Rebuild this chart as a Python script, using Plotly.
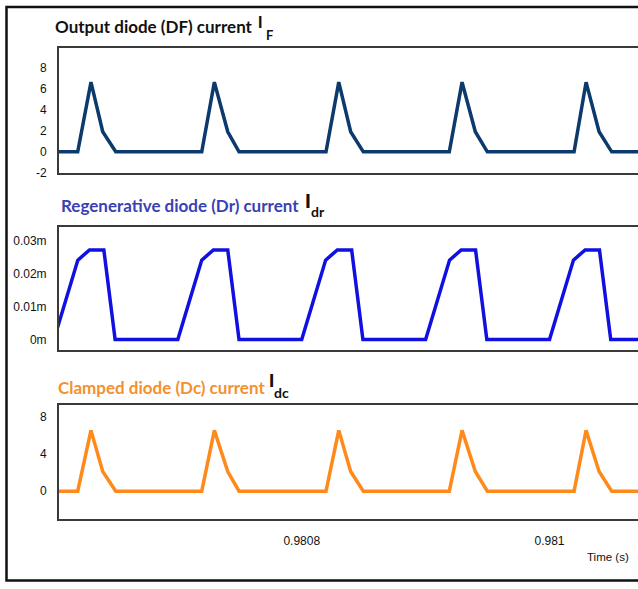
import plotly.graph_objects as go

W, H = 638, 589

# Output diode DF current (A)
t_df = [0.98060, 0.9806192, 0.9806299, 0.9806394, 0.9806499,
        0.9807193, 0.9807295, 0.9807403, 0.9807494,
        0.9808196, 0.9808299, 0.9808395, 0.9808497,
        0.9809191, 0.9809294, 0.9809401, 0.9809498,
        0.9810198, 0.9810295, 0.9810400, 0.9810502, 0.98108]
i_df = [0, 0, 6.6, 1.9, 0,
        0, 6.6, 1.9, 0,
        0, 6.6, 1.9, 0,
        0, 6.6, 1.9, 0,
        0, 6.6, 1.9, 0, 0]

# Regenerative diode Dr current (mA)
t_dr = [0.98060, 0.9806193, 0.9806287, 0.9806403, 0.9806494,
        0.98070, 0.9807193, 0.9807287, 0.9807403, 0.9807494,
        0.98080, 0.9808193, 0.9808287, 0.9808403, 0.9808494,
        0.98090, 0.9809193, 0.9809287, 0.9809403, 0.9809494,
        0.98100, 0.9810193, 0.9810287, 0.9810403, 0.9810494, 0.98108]
i_dr = [0, 0.0242, 0.0273, 0.0273, 0,
        0, 0.0242, 0.0273, 0.0273, 0,
        0, 0.0242, 0.0273, 0.0273, 0,
        0, 0.0242, 0.0273, 0.0273, 0,
        0, 0.0242, 0.0273, 0.0273, 0, 0]

# Clamped diode Dc current (A)
t_dc = t_df
i_dc = [0, 0, 6.5, 2.1, 0,
        0, 6.5, 2.1, 0,
        0, 6.5, 2.1, 0,
        0, 6.5, 2.1, 0,
        0, 6.5, 2.1, 0, 0]

x_ticks = [0.9808, 0.981]
x_tick_text = ["0.9808", "0.981"]
y1_ticks = [-2, 0, 2, 4, 6, 8]
y1_tick_text = ["-2", "0", "2", "4", "6", "8"]
y2_ticks = [0, 0.01, 0.02, 0.03]
y2_tick_text = ["0m", "0.01m", "0.02m", "0.03m"]
y3_ticks = [0, 4, 8]

X_RANGE = [0.9806041, 0.9810714]


def px(x):
    return x / W


def py(y):
    return 1 - y / H


fig = go.Figure()
fig.add_trace(go.Scatter(x=t_df, y=i_df, mode="lines", xaxis="x", yaxis="y",
                         line=dict(color="#0c3a6c", width=3.5)))
fig.add_trace(go.Scatter(x=t_dr, y=i_dr, mode="lines", xaxis="x2", yaxis="y2",
                         line=dict(color="#1010e0", width=3.5)))
fig.add_trace(go.Scatter(x=t_dc, y=i_dc, mode="lines", xaxis="x3", yaxis="y3",
                         line=dict(color="#ff8a1c", width=3.5)))

tick_font = dict(family="Liberation Sans, Arial, sans-serif", size=12, color="#111")
box = dict(showline=True, linecolor="#3a3a3a", linewidth=2, showgrid=False,
           zeroline=False, ticks="")


def xax(anchor, labels):
    d = dict(box, domain=[px(59), 1], range=X_RANGE, anchor=anchor, mirror=True,
             showticklabels=labels, tickfont=tick_font)
    if labels:
        d.update(tickvals=x_ticks, ticktext=x_tick_text, ticklabelstandoff=10)
    return d


def yax(anchor, top, bottom, rng, vals, text=None):
    d = dict(box, domain=[py(bottom), py(top)], range=rng, anchor=anchor,
             tickvals=vals, tickfont=tick_font, ticklabelstandoff=8)
    if text:
        d["ticktext"] = text
    return d


fig.update_layout(
    width=W, height=H,
    margin=dict(l=0, r=0, t=0, b=0),
    paper_bgcolor="white", plot_bgcolor="white",
    showlegend=False,
    xaxis=xax("y", False),
    xaxis2=xax("y2", False),
    xaxis3=xax("y3", True),
    yaxis=yax("x", 49, 175, [-2, 9.8], y1_ticks, y1_tick_text),
    yaxis2=yax("x2", 230, 354, [-0.0031, 0.0342], y2_ticks, y2_tick_text),
    yaxis3=yax("x3", 410, 525, [-2.95, 9.2], y3_ticks),
)

title_font = "Lato, Noto Sans, sans-serif"
ann = []


def label(text, x, y, size, color, family=title_font, weight="bold"):
    ann.append(dict(text=text, x=px(x), y=py(y), xref="paper", yref="paper",
                    xanchor="left", yanchor="middle", showarrow=False,
                    font=dict(family=family, size=size, color=color, weight=weight)))


label("Output diode (DF) current", 53, 27, 17, "#111111")
label("Regenerative diode (Dr) current", 59, 208, 17, "#3a3fb4")
label("Clamped diode (Dc) current", 56, 392.5, 17, "#f5902f")

i_family = "Liberation Sans, Arial, sans-serif"
label("I", 256, 23, 16, "#111111", i_family)
label("F", 264, 35, 13, "#111111")
label("I", 303, 203, 21, "#111111", i_family)
label("dr", 309, 214, 14, "#111111")
label("I", 267, 385, 19, "#111111", i_family)
label("dc", 272, 397, 14, "#111111")

ann.append(dict(text="Time (s)", x=px(631), y=py(564), xref="paper", yref="paper",
                xanchor="right", yanchor="middle", showarrow=False,
                font=dict(family="Liberation Sans, Arial, sans-serif", size=11.5,
                          color="#111")))

fig.update_layout(annotations=ann)

# outer frame around the three panels
fig.add_shape(type="rect", xref="paper", yref="paper",
              x0=px(6.5), x1=1.05, y0=py(587.5), y1=py(7),
              line=dict(color="#111111", width=2.5))

fig.write_html("out.html")
